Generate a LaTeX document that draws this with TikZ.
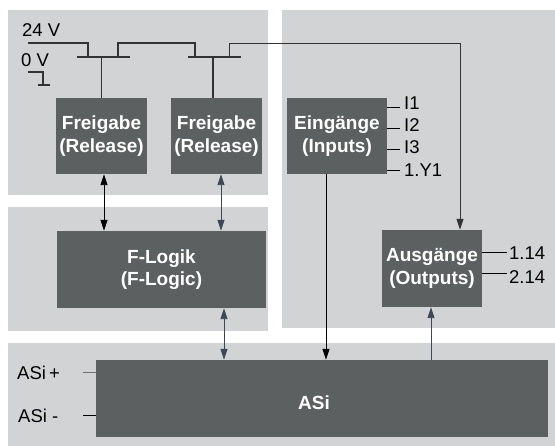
\documentclass[tikz,border=0pt]{standalone}
\usepackage{fontspec}
\setmainfont{Liberation Sans}
\usetikzlibrary{arrows.meta}
\definecolor{panel}{HTML}{D1D3D4}
\definecolor{boxc}{HTML}{5D6061}
\definecolor{slate}{HTML}{3E4852}
\definecolor{wire}{HTML}{333333}
\definecolor{tickgray}{HTML}{707070}
\begin{document}
\begin{tikzpicture}[x=1pt,y=-1pt,
  blk/.style={fill=boxc, draw=none, text=white, inner sep=0pt, align=center,
    font=\fontsize{19}{22.5}\selectfont\bfseries},
  lbl/.style={font=\fontsize{18.5}{20}\selectfont, text=black, inner sep=0pt, anchor=west},
  arr/.style={line width=0.9pt, -{Triangle[length=11pt,width=7pt]}},
  darr/.style={line width=0.9pt, {Triangle[length=11pt,width=7pt]}-{Triangle[length=11pt,width=7pt]}},
  wirel/.style={line width=1.2pt, draw=wire},
  tick/.style={line width=1pt, draw=black}]
\useasboundingbox (0,0) rectangle (555,446);
% panels
\fill[panel] (8,10) rectangle (268,195);
\fill[panel] (282,10) rectangle (555,328);
\fill[panel] (8,207) rectangle (268,331);
\fill[panel] (8,343) rectangle (555,446);
% blocks
\node[blk, minimum width=91pt, minimum height=76pt] (f1) at (101.5,136) {Freigabe\\(Release)};
\node[blk, minimum width=91pt, minimum height=76pt] (f2) at (216.5,136) {Freigabe\\(Release)};
\node[blk, minimum width=100pt, minimum height=76pt] (ein) at (337,136) {Eingänge\\(Inputs)};
\node[blk, minimum width=209pt, minimum height=77pt] (fl) at (161.5,269.5) {F-Logik\\(F-Logic)};
\node[blk, minimum width=100pt, minimum height=77pt] (aus) at (432,268.5) {Ausgänge\\(Outputs)};
\node[blk, minimum width=452pt, minimum height=77pt] (asi) at (322,398.5) {};
\node[blk, fill=none] (asit) at ([xshift=-8pt,yshift=-4pt]asi.center) {ASi};
% supply labels
\node[lbl] (l24) at (22,30) {24 V};
\node[lbl] (l0) at (21,60) {0 V};
% supply wiring
\coordinate (bar1) at (103.5,57);
\coordinate (bar2) at (214.5,57);
\coordinate (top) at (460,43);
\draw[wirel] (28,43) -- (88,43) -- (88,57);
\draw[wirel] (bar1) +(-26.5,0) -- +(26.5,0);
\draw[wirel] (f1.north) -- (f1.north |- bar1);
\draw[wirel] (118,57) -- (118,43) -- (195,43) -- (195,57);
\draw[wirel] (bar2) +(-26.5,0) -- +(26.5,0);
\draw[wirel] ([xshift=-3.5pt]f2.north) -- ([xshift=-3.5pt]f2.north |- bar2);
\draw[arr, wire] (229,57) |- (top) -- ([xshift=28pt]aus.north);
% ground
\draw[wirel] (28,72) -- (43,72) -- (43,85);
\draw[wirel] (38,85) -- (50,85);
% inputs
\node[lbl] (i1) at (404,103) {I1};
\node[lbl] (i2) at (404,125) {I2};
\node[lbl] (i3) at (404,147) {I3};
\node[lbl] (y1) at (404,170) {1.Y1};
\draw[tick] ([yshift=28pt]ein.east) -- ++(13,0);
\draw[tick] ([yshift=7pt]ein.east) -- ++(13,0);
\draw[tick] ([yshift=-14pt]ein.east) -- ++(13,0);
\draw[tick] ([yshift=-35pt]ein.east) -- ++(13,0);
% outputs
\node[lbl] (o1) at (509,253) {1.14};
\node[lbl] (o2) at (509,277) {2.14};
\draw[tick] ([yshift=15.5pt]aus.east) -- ++(25,0);
\draw[tick] ([yshift=-5.5pt]aus.east) -- ++(25,0);
% ASi terminals
\node[lbl] (ap) at (17,373) {ASi\,+};
\node[lbl] (am) at (18,416) {ASi\;-};
\draw[tick, draw=tickgray] ([yshift=25.5pt]asi.west) -- ++(-13,0);
\draw[tick] ([yshift=-17.5pt]asi.west) -- ++(-13,0);
% arrows
\draw[darr] ([xshift=2.5pt]f1.south) -- ([xshift=2.5pt]f1.south |- fl.north);
\draw[darr, slate] ([xshift=4.5pt]f2.south) -- ([xshift=4.5pt]f2.south |- fl.north);
\draw[darr, slate] ([xshift=62.5pt]fl.south) -- ([xshift=62.5pt]fl.south |- asi.north);
\draw[arr] ([xshift=-11pt]ein.south) -- ([xshift=-11pt]ein.south |- asi.north);
\draw[arr, slate] ([xshift=-1pt]aus.south |- asi.north) -- ([xshift=-1pt]aus.south);
\end{tikzpicture}
\end{document}
